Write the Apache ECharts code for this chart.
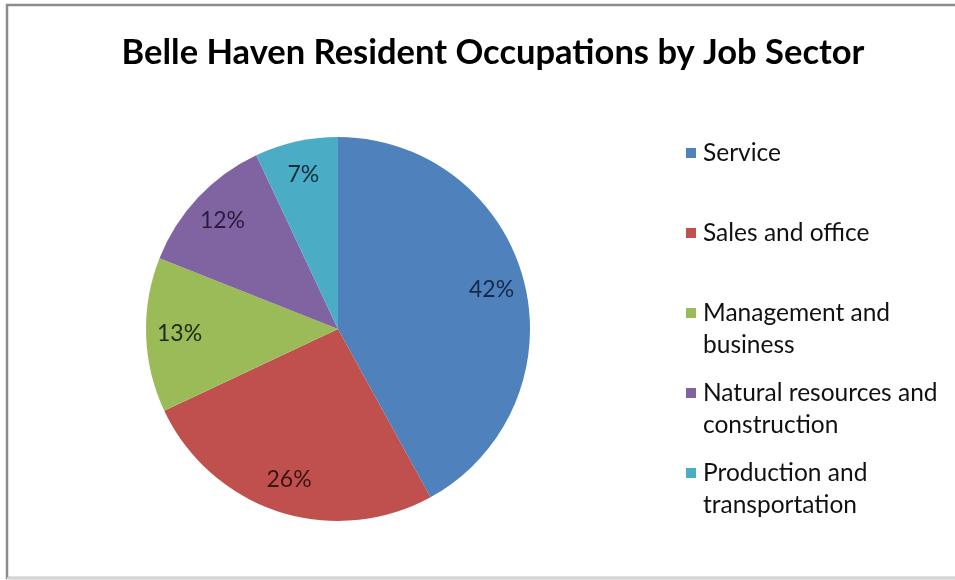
<!DOCTYPE html>
<html>
<head>
<meta charset="utf-8">
<script src="https://cdn.jsdelivr.net/npm/echarts@6/dist/echarts.min.js"></script>
<style>
  html, body { margin: 0; padding: 0; background: #ffffff; }
  #chart { width: 955px; height: 580px; }
</style>
</head>
<body>
<div id="chart"></div>
<script>
// Occupation shares of Belle Haven residents (percent)
const sectors = [
  'Service',
  'Sales and office',
  'Management and business',
  'Natural resources and construction',
  'Production and transportation'
];
const shares = [42, 26, 13, 12, 7];
// Legend text as two lines per entry (second line may be empty)
const legendLines = [
  ['Service', ''],
  ['Sales and office', ''],
  ['Management and', 'business'],
  ['Natural resources and', 'construction'],
  ['Production and', 'transportation']
];
const sliceColors = ['#4F81BD', '#C0504D', '#9BBB59', '#8064A2', '#4BACC6'];
const labelColors = ['#17284a', '#3a1414', '#1e2a0e', '#2b1b40', '#0f2e3a'];

const FONT = 'Lato, "Open Sans", sans-serif';
const R = 192; // pie radius in px

const chart = echarts.init(document.getElementById('chart'), null, { renderer: 'canvas' });

const pieData = sectors.map((name, i) => ({
  name: name,
  value: shares[i],
  itemStyle: { color: sliceColors[i] }
}));

const labelData = sectors.map((name, i) => ({
  name: name,
  value: shares[i],
  label: { color: labelColors[i] }
}));

// rich styles: one coloured square per sector, aligned with the first text line
const legendRich = {
  t: { fontFamily: 'Lato, "Open Sans", sans-serif', fontSize: 24.5, color: '#111111', lineHeight: 32 },
  pad: { width: 17, height: 10 }
};
sliceColors.forEach((c, i) => {
  legendRich['m' + i] = { width: 10, height: 10, backgroundColor: c, verticalAlign: 'middle' };
  legendRich['g' + i] = { width: 7, height: 10 };
});

chart.setOption({
  backgroundColor: '#ffffff',
  animation: false,
  title: {
    text: 'Belle Haven Resident Occupations by Job Sector',
    left: 488,
    textAlign: 'center',
    top: 30,
    textStyle: { fontFamily: FONT, fontWeight: 'bold', fontSize: 34.5, color: '#000000' }
  },
  legend: {
    orient: 'vertical',
    left: 676,
    top: 132,
    itemWidth: 0,
    itemHeight: 0,
    itemGap: 16,
    itemStyle: { opacity: 0 },
    data: sectors,
    formatter: (name) => {
      const i = sectors.indexOf(name);
      const [a, b] = legendLines[i];
      return '{m' + i + '|}{g' + i + '|}{t|' + a + '}\n{pad|}{t|' + (b || ' ') + '}';
    },
    textStyle: { rich: legendRich, lineHeight: 32 }
  },
  graphic: [
    {
      type: 'rect',
      shape: { x: 7, y: 5, width: 1000, height: 573 },
      style: { fill: 'none', stroke: '#8c8c8c', lineWidth: 2.5 },
      silent: true
    },
    {
      type: 'line',
      shape: { x1: 7, y1: 578, x2: 955, y2: 578 },
      style: { stroke: '#ececec', lineWidth: 1.5 },
      silent: true
    }
  ],
  series: [
    {
      name: 'sectors',
      type: 'pie',
      center: [338, 329],
      radius: [0, R],
      startAngle: 90,
      clockwise: true,
      label: { show: false },
      labelLine: { show: false },
      emphasis: { disabled: true },
      data: pieData
    },
    {
      // transparent ring that carries the percentage labels
      name: 'labels',
      type: 'pie',
      center: [338, 329],
      radius: [R * 0.62, R],
      startAngle: 90,
      clockwise: true,
      silent: true,
      itemStyle: { color: 'rgba(0,0,0,0)' },
      label: {
        show: true,
        position: 'inside',
        formatter: '{c}%',
        fontFamily: FONT,
        fontSize: 23
      },
      labelLine: { show: false },
      emphasis: { disabled: true },
      data: labelData
    }
  ]
});
</script>
</body>
</html>
